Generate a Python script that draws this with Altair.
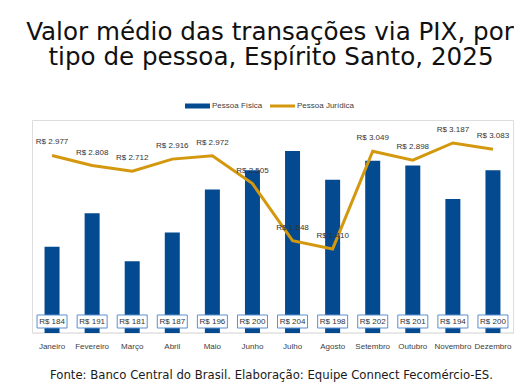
import altair as alt
import pandas as pd

months = ["Janeiro", "Fevereiro", "Março", "Abril", "Maio", "Junho", "Julho",
          "Agosto", "Setembro", "Outubro", "Novembro", "Dezembro"]
pf_values = [184, 191, 181, 187, 196, 200, 204, 198, 202, 201, 194, 200]
pj_values = [2977, 2808, 2712, 2916, 2972, 2505, 1548, 1410, 3049, 2898, 3187, 3083]

title_lines = ["Valor médio das transações via PIX, por",
               "tipo de pessoa, Espírito Santo, 2025"]
footer = "Fonte: Banco Central do Brasil.  Elaboração: Equipe Connect Fecomércio-ES."
legend_labels = ["Pessoa Física", "Pessoa Jurídica"]

BLUE = "#034a91"
GOLD = "#d4980e"
W, H = 481, 213

df = pd.DataFrame({
    "mes": months,
    "pf": pf_values,
    "pj": pj_values,
    "pf_lab": [f"R$ {v}" for v in pf_values],
    "pj_lab": [("R$ " + f"{v:,}".replace(",", ".")) for v in pj_values],
})

xs = alt.X("mes:N", sort=months,
           scale=alt.Scale(domain=months, paddingInner=0, paddingOuter=0),
           axis=alt.Axis(title=None, domain=False, ticks=False, labelAngle=0,
                         labelFontSize=8, labelColor="#404040", labelPadding=9,
                         labelFont="Liberation Sans"))
y_pf = alt.Y("pf:Q", scale=alt.Scale(domain=[166, 210.5]), axis=None)
y_pj = alt.Y("pj:Q", scale=alt.Scale(domain=[0, 3572]), axis=None)

base = alt.Chart(df)

baseline = base.mark_rule(color="#e8e8e8", strokeWidth=1).encode(
    x=alt.value(0), x2=alt.value(W), y=alt.value(H))

bars = base.mark_bar(color=BLUE, size=15, clip=True).encode(
    x=xs, y=y_pf, y2=alt.datum(166))

boxes = base.mark_bar(fill="white", stroke="#5b8fcf", strokeWidth=1, size=30).encode(
    x=xs, y=alt.value(195), y2=alt.value(208))

box_text = base.mark_text(fontSize=8, color="#333333", font="Liberation Sans",
                          baseline="middle").encode(
    x=xs, y=alt.value(201.5), text="pf_lab:N")

bar_layer = alt.layer(bars, boxes, box_text)

line = base.mark_line(color=GOLD, strokeWidth=3).encode(x=xs, y=y_pj)
line_text = base.mark_text(fontSize=8, color="#333333", font="Liberation Sans",
                           dy=-13).encode(x=xs, y=y_pj, text="pj_lab:N")
line_layer = alt.layer(line, line_text)

one = pd.DataFrame({"a": [0]})
TFONT = "DejaVu Sans"
t1 = alt.Chart(one).mark_text(fontSize=24.6, font=TFONT, color="#111111",
                              align="center", baseline="alphabetic",
                              text=title_lines[0]).encode(
    x=alt.value(238), y=alt.value(-80))
t2 = alt.Chart(one).mark_text(fontSize=24.6, font=TFONT, color="#111111",
                              align="center", baseline="alphabetic",
                              text=title_lines[1]).encode(
    x=alt.value(239), y=alt.value(-55.5))
ft = alt.Chart(one).mark_text(fontSize=11.7, font=TFONT, color="#1a1a1a",
                              align="center", baseline="alphabetic",
                              text=footer).encode(
    x=alt.value(239.5), y=alt.value(259))

leg_rect = alt.Chart(one).mark_rule(color=BLUE, strokeWidth=5).encode(
    x=alt.value(153), x2=alt.value(178), y=alt.value(-14))
leg_t1 = alt.Chart(one).mark_text(fontSize=8, font="Liberation Sans", color="#404040",
                                  align="left", baseline="middle",
                                  text=legend_labels[0]).encode(
    x=alt.value(180), y=alt.value(-14))
leg_line = alt.Chart(one).mark_rule(color=GOLD, strokeWidth=3).encode(
    x=alt.value(238), x2=alt.value(263), y=alt.value(-14))
leg_t2 = alt.Chart(one).mark_text(fontSize=8, font="Liberation Sans", color="#404040",
                                  align="left", baseline="middle",
                                  text=legend_labels[1]).encode(
    x=alt.value(265), y=alt.value(-14))

chart = alt.layer(
    baseline, bar_layer, line_layer, t1, t2, ft, leg_rect, leg_t1, leg_line, leg_t2
).resolve_scale(y="independent").properties(
    width=W, height=H,
    autosize=alt.AutoSizeParams(type="none"),
    padding={"left": 24, "top": 112, "right": 1, "bottom": 52},
).configure_view(stroke=None).configure(background="white")

chart.save("out.html", embed_options={"renderer": "svg", "actions": False})
